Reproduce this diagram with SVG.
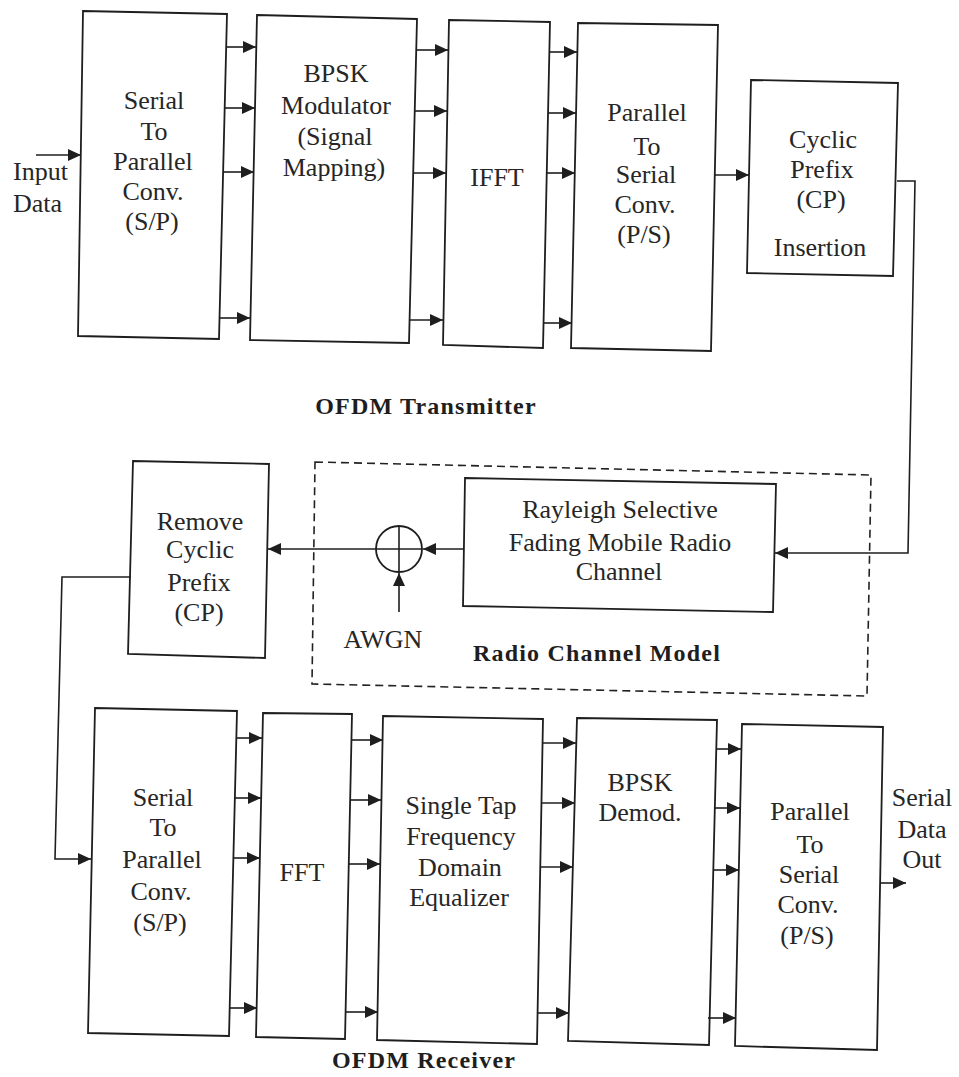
<svg xmlns="http://www.w3.org/2000/svg" width="959" height="1077" viewBox="0 0 959 1077">
<style>
.box{fill:#fff;stroke:#1e1e1e;stroke-width:1.8}
.dash{fill:none;stroke:#222;stroke-width:1.6;stroke-dasharray:8 5}
.ln{fill:none;stroke:#1e1e1e;stroke-width:1.6}
text{font-family:"Liberation Serif","Times New Roman",serif;font-size:26px;fill:#262626;text-anchor:middle}
.t{font-weight:bold;font-size:24px;letter-spacing:1.2px;fill:#1e1e1e}
.l{text-anchor:start}
</style>
<defs>
<marker id="ah" markerUnits="userSpaceOnUse" markerWidth="15" markerHeight="13" refX="13" refY="6" orient="auto">
<path d="M0,0 L13,6 L0,12 z" fill="#1e1e1e"/>
</marker>
</defs>
<rect width="959" height="1077" fill="#fff"/>

<g id="tx-sp">
<polygon class="box" points="83,11 227,14 219,339 78,336"/>
<text x="154" y="109">Serial</text><text x="154" y="140">To</text><text x="153" y="170">Parallel</text><text x="153" y="200">Conv.</text><text x="152" y="230">(S/P)</text>
</g>
<g id="tx-bpsk">
<polygon class="box" points="257,15 417,19 409,343 250,340"/>
<text x="336" y="82">BPSK</text><text x="336" y="114">Modulator</text><text x="335" y="145">(Signal</text><text x="334" y="176">Mapping)</text>
</g>
<g id="tx-ifft">
<polygon class="box" points="449,20 550,22 543,348 443,345"/>
<text x="497" y="186">IFFT</text>
</g>
<g id="tx-ps">
<polygon class="box" points="578,23 718,25 711,351 571,348"/>
<text x="647" y="121">Parallel</text><text x="647" y="155">To</text><text x="646" y="183">Serial</text><text x="645" y="213">Conv.</text><text x="644" y="243">(P/S)</text>
</g>
<g id="tx-cp">
<polygon class="box" points="751,80 898,83 893,276 747,273"/>
<text x="823" y="148">Cyclic</text><text x="822" y="178">Prefix</text><text x="821" y="208">(CP)</text><text x="820" y="256">Insertion</text>
</g>
<g id="tx-label"><text class="t" x="426" y="414">OFDM Transmitter</text></g>

<g id="channel-model">
<polygon class="dash" points="315,462 871,475 867,696 312,684"/>
<text class="t" x="597" y="661">Radio Channel Model</text>
</g>
<g id="rayleigh">
<polygon class="box" points="465,478 776,484 773,612 463,606"/>
<text x="620" y="518">Rayleigh Selective</text><text x="620" y="551">Fading Mobile Radio</text><text x="619" y="580">Channel</text>
</g>
<g id="adder">
<circle cx="399" cy="549" r="23" fill="#fff" stroke="#1e1e1e" stroke-width="1.8"/>
<line class="ln" x1="376" y1="549" x2="422" y2="549"/>
<line class="ln" x1="399" y1="526" x2="399" y2="572"/>
</g>
<g id="awgn"><text x="383" y="648">AWGN</text></g>
<g id="rx-rmcp">
<polygon class="box" points="133,461 269,464 265,658 128,654"/>
<text x="200" y="530">Remove</text><text x="200" y="558">Cyclic</text><text x="199" y="591">Prefix</text><text x="199" y="621">(CP)</text>
</g>

<g id="rx-sp">
<polygon class="box" points="95,708 237,711 229,1036 88,1033"/>
<text x="163" y="806">Serial</text><text x="163" y="836">To</text><text x="162" y="868">Parallel</text><text x="161" y="900">Conv.</text><text x="160" y="931">(S/P)</text>
</g>
<g id="rx-fft">
<polygon class="box" points="263,713 352,714 345,1039 256,1037"/>
<text x="302" y="881">FFT</text>
</g>
<g id="rx-eq">
<polygon class="box" points="383,716 543,719 537,1044 377,1040"/>
<text x="461" y="814">Single Tap</text><text x="461" y="845">Frequency</text><text x="460" y="876">Domain</text><text x="459" y="906">Equalizer</text>
</g>
<g id="rx-demod">
<polygon class="box" points="577,718 717,720 709,1045 568,1041"/>
<text x="640" y="791">BPSK</text><text x="640" y="821">Demod.</text>
</g>
<g id="rx-ps">
<polygon class="box" points="742,724 883,727 877,1050 735,1046"/>
<text x="810" y="820">Parallel</text><text x="810" y="853">To</text><text x="809" y="883">Serial</text><text x="808" y="913">Conv.</text><text x="807" y="944">(P/S)</text>
</g>
<g id="rx-label"><text class="t" x="424" y="1068">OFDM Receiver</text></g>

<g id="io-labels">
<text class="l" x="13" y="180">Input</text><text class="l" x="13" y="212">Data</text>
<text x="922" y="806">Serial</text><text x="922" y="838">Data</text><text x="922" y="868">Out</text>
</g>

<g id="connectors" class="ln" marker-end="url(#ah)">
<line x1="36" y1="155" x2="81" y2="155"/>
<line x1="226" y1="47" x2="256" y2="47"/>
<line x1="225" y1="108" x2="255" y2="108"/>
<line x1="223" y1="172" x2="254" y2="172"/>
<line x1="220" y1="318" x2="250" y2="318"/>
<line x1="416" y1="50" x2="448" y2="50"/>
<line x1="415" y1="111" x2="447" y2="111"/>
<line x1="413" y1="173" x2="446" y2="173"/>
<line x1="410" y1="320" x2="443" y2="320"/>
<line x1="549" y1="52" x2="577" y2="52"/>
<line x1="548" y1="113" x2="576" y2="113"/>
<line x1="547" y1="173" x2="575" y2="173"/>
<line x1="544" y1="323" x2="572" y2="323"/>
<line x1="715" y1="175" x2="749" y2="175"/>
<polyline points="897,181 915,181 908,553 775,553"/>
<line x1="464" y1="549" x2="423" y2="549"/>
<line x1="376" y1="549" x2="268" y2="549"/>
<line x1="399" y1="612" x2="399" y2="573"/>
<polyline points="131,577 62,577 55,859 91,859"/>
<line x1="236" y1="738" x2="262" y2="738"/>
<line x1="235" y1="798" x2="261" y2="798"/>
<line x1="233" y1="858" x2="260" y2="858"/>
<line x1="230" y1="1008" x2="257" y2="1008"/>
<line x1="351" y1="740" x2="383" y2="740"/>
<line x1="350" y1="800" x2="381" y2="800"/>
<line x1="349" y1="864" x2="380" y2="864"/>
<line x1="346" y1="1012" x2="378" y2="1012"/>
<line x1="543" y1="743" x2="576" y2="743"/>
<line x1="541" y1="803" x2="575" y2="803"/>
<line x1="540" y1="867" x2="573" y2="867"/>
<line x1="538" y1="1013" x2="569" y2="1013"/>
<line x1="716" y1="749" x2="741" y2="749"/>
<line x1="714" y1="808" x2="740" y2="808"/>
<line x1="713" y1="870" x2="739" y2="870"/>
<line x1="708" y1="1018" x2="736" y2="1018"/>
<line x1="880" y1="883" x2="906" y2="883"/>
</g>
</svg>
